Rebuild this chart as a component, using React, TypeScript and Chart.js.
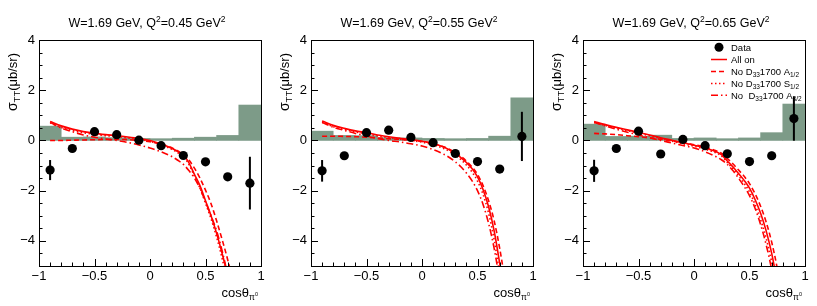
import React, { useEffect, useRef } from "react";
import { Chart, registerables } from "chart.js";

Chart.register(...registerables);

const FONT = '"Liberation Sans", Arial, Helvetica, sans-serif';

// ---- data ----
const cosX = [-0.9, -0.7, -0.5, -0.3, -0.1, 0.1, 0.3, 0.5, 0.7, 0.9];
const sysCenters = [-0.9, -0.7, -0.5, -0.3, -0.1, 0.1, 0.3, 0.5, 0.7, 0.9];
const xTicks = [-1, -0.5, 0, 0.5, 1];
const yTicks = [-4, -2, 0, 2, 4];
const q2Labels = ["0.45", "0.55", "0.65"];

const sigmaQ045 = [-1.18, -0.32, 0.35, 0.23, 0.01, -0.21, -0.6, -0.85, -1.45, -1.7];
const errQ045 = [0.4, 0.08, 0.08, 0.08, 0.06, 0.08, 0.08, 0.1, 0.15, 1.05];
const sysQ045 = [0.57, 0.13, 0.14, 0.11, 0.08, 0.07, 0.09, 0.13, 0.2, 1.41];

const sigmaQ055 = [-1.21, -0.61, 0.31, 0.41, 0.12, -0.09, -0.52, -0.84, -1.14, 0.16];
const errQ055 = [0.43, 0.13, 0.08, 0.08, 0.07, 0.08, 0.08, 0.1, 0.14, 0.98];
const sysQ055 = [0.37, 0.2, 0.19, 0.11, 0.1, 0.08, 0.07, 0.08, 0.17, 1.7];

const sigmaQ065 = [-1.21, -0.32, 0.37, -0.54, 0.04, -0.21, -0.53, -0.84, -0.61, 0.87];
const errQ065 = [0.44, 0.08, 0.08, 0.08, 0.07, 0.08, 0.08, 0.1, 0.16, 0.88];
const sysQ065 = [0.65, 0.16, 0.17, 0.21, 0.08, 0.1, 0.07, 0.1, 0.31, 1.45];

const curveX = [-0.9, -0.8, -0.7, -0.6, -0.5, -0.4, -0.3, -0.2, -0.1, 0, 0.1, 0.2, 0.25, 0.3, 0.35, 0.4, 0.45, 0.5, 0.55, 0.6, 0.65, 0.7, 0.75, 0.8];

const allOnQ045 = [0.75, 0.58, 0.45, 0.35, 0.28, 0.23, 0.19, 0.14, 0.08, 0.0, -0.14, -0.32, -0.44, -0.58, -0.88, -1.35, -1.8, -2.4, -3.0, -3.7, -4.5, -5.4, -6.5, -8];
const noA12Q045 = [0.0, 0.0, 0.01, 0.02, 0.03, 0.04, 0.04, 0.03, 0.0, -0.05, -0.15, -0.3, -0.42, -0.55, -0.78, -1.1, -1.5, -1.98, -2.52, -3.2, -3.95, -4.75, -5.7, -7];
const noS12Q045 = [0.7, 0.52, 0.4, 0.31, 0.24, 0.19, 0.15, 0.1, 0.04, -0.04, -0.17, -0.36, -0.49, -0.65, -0.95, -1.42, -1.9, -2.5, -3.12, -3.85, -4.7, -5.7, -7, -8.5];
const noA32Q045 = [0.72, 0.5, 0.35, 0.22, 0.13, 0.06, 0.0, -0.08, -0.18, -0.3, -0.45, -0.65, -0.79, -0.95, -1.2, -1.5, -1.9, -2.45, -3.0, -3.6, -4.4, -5.4, -6.8, -8.5];

const allOnQ055 = [0.77, 0.6, 0.48, 0.38, 0.31, 0.22, 0.15, 0.09, 0.04, -0.03, -0.12, -0.27, -0.38, -0.51, -0.68, -0.88, -1.12, -1.45, -1.95, -2.64, -3.6, -4.9, -6.4, -8];
const noA12Q055 = [0.17, 0.17, 0.16, 0.15, 0.13, 0.1, 0.07, 0.04, 0.01, -0.04, -0.12, -0.26, -0.36, -0.48, -0.63, -0.82, -1.05, -1.35, -1.8, -2.4, -3.2, -4.3, -5.7, -7.5];
const noS12Q055 = [0.72, 0.55, 0.44, 0.34, 0.27, 0.18, 0.11, 0.05, 0.0, -0.07, -0.17, -0.33, -0.44, -0.58, -0.76, -0.98, -1.25, -1.62, -2.15, -2.9, -3.95, -5.35, -7, -9];
const noA32Q055 = [0.72, 0.53, 0.4, 0.28, 0.18, 0.08, 0.0, -0.06, -0.13, -0.22, -0.36, -0.56, -0.69, -0.85, -1.05, -1.3, -1.6, -2.0, -2.55, -3.3, -4.3, -5.6, -7.2, -9];

const allOnQ065 = [0.75, 0.63, 0.52, 0.42, 0.32, 0.22, 0.11, 0.01, -0.09, -0.19, -0.3, -0.45, -0.58, -0.82, -1.05, -1.31, -1.58, -1.9, -2.35, -2.9, -3.6, -4.5, -5.7, -7.2];
const noA12Q065 = [0.28, 0.26, 0.23, 0.19, 0.15, 0.1, 0.05, -0.02, -0.09, -0.17, -0.27, -0.41, -0.52, -0.72, -0.93, -1.17, -1.42, -1.72, -2.12, -2.62, -3.25, -4.05, -5.1, -6.5];
const noS12Q065 = [0.72, 0.6, 0.49, 0.39, 0.29, 0.19, 0.08, -0.03, -0.13, -0.23, -0.35, -0.5, -0.63, -0.88, -1.12, -1.4, -1.7, -2.05, -2.55, -3.15, -3.9, -4.85, -6.1, -7.7];
const noA32Q065 = [0.72, 0.58, 0.45, 0.33, 0.22, 0.11, 0.0, -0.1, -0.2, -0.3, -0.45, -0.65, -0.78, -0.95, -1.2, -1.5, -1.82, -2.2, -2.7, -3.35, -4.15, -5.15, -6.4, -8];

const panels = [
  { q2: q2Labels[0], sigma: sigmaQ045, err: errQ045, sys: sysQ045, allOn: allOnQ045, noA12: noA12Q045, noS12: noS12Q045, noA32: noA32Q045, legend: false },
  { q2: q2Labels[1], sigma: sigmaQ055, err: errQ055, sys: sysQ055, allOn: allOnQ055, noA12: noA12Q055, noS12: noS12Q055, noA32: noA32Q055, legend: false },
  { q2: q2Labels[2], sigma: sigmaQ065, err: errQ065, sys: sysQ065, allOn: allOnQ065, noA12: noA12Q065, noS12: noS12Q065, noA32: noA32Q065, legend: true },
];

const RED = "#ff0000";
const HIST = "#7d9b88";
const DASH = [5, 3];
const DOT = [1.5, 2.5];
const DASHDOT = [7, 3, 1.5, 3];

type Part = { t: string; size: number; dy?: number };

function drawRich(ctx: CanvasRenderingContext2D, parts: Part[], x: number, y: number, align: "left" | "right" | "center") {
  let w = 0;
  for (const p of parts) {
    ctx.font = `${p.size}px ${FONT}`;
    w += ctx.measureText(p.t).width;
  }
  let cx = align === "left" ? x : align === "right" ? x - w : x - w / 2;
  ctx.textAlign = "left";
  ctx.textBaseline = "alphabetic";
  for (const p of parts) {
    ctx.font = `${p.size}px ${FONT}`;
    ctx.fillText(p.t, cx, y + (p.dy || 0));
    cx += ctx.measureText(p.t).width;
  }
}

function fmt(v: number) {
  const s = String(Math.abs(v));
  return v < 0 ? "\u2212" + s : s;
}

function Panel({ cfg }: { cfg: (typeof panels)[number] }) {
  const ref = useRef<HTMLCanvasElement | null>(null);
  useEffect(() => {
    const canvas = ref.current!;
    const decor = {
      id: "decor",
      afterDatasetsDraw(chart: any) {
        const ctx = chart.ctx as CanvasRenderingContext2D;
        const xs = chart.scales.x;
        const ys = chart.scales.y;
        const { left, right, top, bottom } = chart.chartArea;
        ctx.save();
        // error bars
        ctx.strokeStyle = "#000";
        ctx.lineWidth = 2;
        cosX.forEach((x, i) => {
          const px = xs.getPixelForValue(x);
          ctx.beginPath();
          ctx.moveTo(px, ys.getPixelForValue(cfg.sigma[i] - cfg.err[i]));
          ctx.lineTo(px, ys.getPixelForValue(cfg.sigma[i] + cfg.err[i]));
          ctx.stroke();
        });
        // frame
        ctx.lineWidth = 1;
        ctx.strokeRect(Math.round(left) + 0.5, Math.round(top) + 0.5, Math.round(right - left), Math.round(bottom - top));
        // x ticks
        for (let k = -10; k <= 10; k++) {
          const v = k / 10;
          const major = k % 5 === 0;
          const px = Math.round(xs.getPixelForValue(v)) + 0.5;
          ctx.beginPath();
          ctx.moveTo(px, bottom);
          ctx.lineTo(px, bottom - (major ? 7 : 3.5));
          ctx.stroke();
        }
        for (let k = -10; k <= 8; k++) {
          const v = k / 2;
          const major = k % 4 === 0;
          const py = Math.round(ys.getPixelForValue(v)) + 0.5;
          ctx.beginPath();
          ctx.moveTo(left, py);
          ctx.lineTo(left + (major ? 7 : 3.5), py);
          ctx.stroke();
        }
        ctx.fillStyle = "#000";
        // title
        drawRich(ctx, [
          { t: "W=1.69 GeV, Q", size: 12.5 },
          { t: "2", size: 8.5, dy: -5 },
          { t: "=" + cfg.q2 + " GeV", size: 12.5 },
          { t: "2", size: 8.5, dy: -5 },
        ], 147, 27, "center");
        // x title
        drawRich(ctx, [
          { t: "cos\u03b8", size: 13 },
          { t: "\u03c0", size: 8.5, dy: 3 },
          { t: "0", size: 5.5, dy: -1 },
        ], 258, 297, "right");
        // y title
        ctx.save();
        ctx.translate(17, 53);
        ctx.rotate(-Math.PI / 2);
        drawRich(ctx, [
          { t: "\u03c3", size: 14 },
          { t: "TT", size: 9.5, dy: 3 },
          { t: "(\u03bcb/sr)", size: 13 },
        ], 0, 0, "right");
        ctx.restore();
        // legend
        if (cfg.legend) {
          const rows = [47.3, 59.5, 71.5, 83.5, 95.3];
          const lx0 = 167, lx1 = 183, tx = 187;
          ctx.beginPath();
          ctx.arc(175, rows[0], 4.5, 0, Math.PI * 2);
          ctx.fill();
          const dashes = [[], DASH, DOT, DASHDOT];
          dashes.forEach((d, i) => {
            ctx.strokeStyle = RED;
            ctx.lineWidth = 1.5;
            ctx.setLineDash(d as number[]);
            ctx.beginPath();
            ctx.moveTo(lx0, rows[i + 1]);
            ctx.lineTo(lx1, rows[i + 1]);
            ctx.stroke();
          });
          ctx.setLineDash([]);
          ctx.fillStyle = "#000";
          const fs = 9.5, ss = 6.5;
          drawRich(ctx, [{ t: "Data", size: fs }], tx, rows[0] + 3.4, "left");
          drawRich(ctx, [{ t: "All on", size: fs }], tx, rows[1] + 3.4, "left");
          drawRich(ctx, [{ t: "No D", size: fs }, { t: "33", size: ss, dy: 2 }, { t: "1700 A", size: fs }, { t: "1/2", size: ss, dy: 2 }], tx, rows[2] + 3.4, "left");
          drawRich(ctx, [{ t: "No D", size: fs }, { t: "33", size: ss, dy: 2 }, { t: "1700 S", size: fs }, { t: "1/2", size: ss, dy: 2 }], tx, rows[3] + 3.4, "left");
          drawRich(ctx, [{ t: "No  D", size: fs }, { t: "33", size: ss, dy: 2 }, { t: "1700 A", size: fs }, { t: "3/2", size: ss, dy: 2 }], tx, rows[4] + 3.4, "left");
        }
        ctx.restore();
      },
    };

    const line = (vals: number[], dash: number[]) => ({
      type: "line" as const,
      data: curveX.map((x, i) => ({ x, y: vals[i] })),
      borderColor: RED,
      borderWidth: 1.6,
      borderDash: dash,
      pointRadius: 0,
      cubicInterpolationMode: "monotone" as const,
      clip: 0,
      order: 5,
    });

    const chart = new Chart(canvas, {
      type: "bar",
      data: {
        datasets: [
          {
            type: "bar",
            data: sysCenters.map((x, i) => ({ x, y: cfg.sys[i] })),
            backgroundColor: HIST,
            borderWidth: 0,
            barPercentage: 1,
            categoryPercentage: 1,
            grouped: false,
            order: 10,
          } as any,
          line(cfg.allOn, []),
          line(cfg.noA12, DASH),
          line(cfg.noS12, DOT),
          line(cfg.noA32, DASHDOT),
          {
            type: "line",
            data: cosX.map((x, i) => ({ x, y: cfg.sigma[i] })),
            showLine: false,
            pointRadius: 4.6,
            pointBackgroundColor: "#000",
            pointBorderWidth: 0,
            order: 1,
          },
        ] as any,
      },
      options: {
        animation: false,
        responsive: false,
        events: [],
        layout: { padding: { top: 40, right: 11, left: 0, bottom: 0 } },
        plugins: { legend: { display: false }, tooltip: { enabled: false }, title: { display: false } },
        scales: {
          x: {
            type: "linear",
            min: -1,
            max: 1,
            offset: false,
            grid: { display: false, drawTicks: false },
            border: { display: false },
            afterBuildTicks: (s: any) => { s.ticks = xTicks.map((v) => ({ value: v })); },
            afterFit: (s: any) => { s.height = 40; },
            ticks: {
              padding: 3,
              color: "#000",
              maxRotation: 0,
              autoSkip: false,
              font: { family: FONT, size: 13 },
              callback: (v: any) => fmt(Number(v)),
            },
          },
          y: {
            type: "linear",
            min: -5,
            max: 4,
            grid: { display: false, drawTicks: false },
            border: { display: false },
            afterBuildTicks: (s: any) => { s.ticks = yTicks.map((v) => ({ value: v })); },
            afterFit: (s: any) => { s.width = 39; },
            ticks: {
              padding: 4,
              color: "#000",
              autoSkip: false,
              font: { family: FONT, size: 13 },
              callback: (v: any) => fmt(Number(v)),
            },
          },
        },
      } as any,
      plugins: [decor],
    });
    return () => chart.destroy();
  }, [cfg]);
  return <canvas ref={ref} width={272} height={306} style={{ width: 272, height: 306, display: "block" }} />;
}

export default function App() {
  useEffect(() => {
    document.body.style.margin = "0";
  }, []);
  return (
    <div style={{ display: "flex", width: 817, height: 306, background: "#fff" }}>
      {panels.map((p) => (
        <Panel key={p.q2} cfg={p} />
      ))}
    </div>
  );
}
